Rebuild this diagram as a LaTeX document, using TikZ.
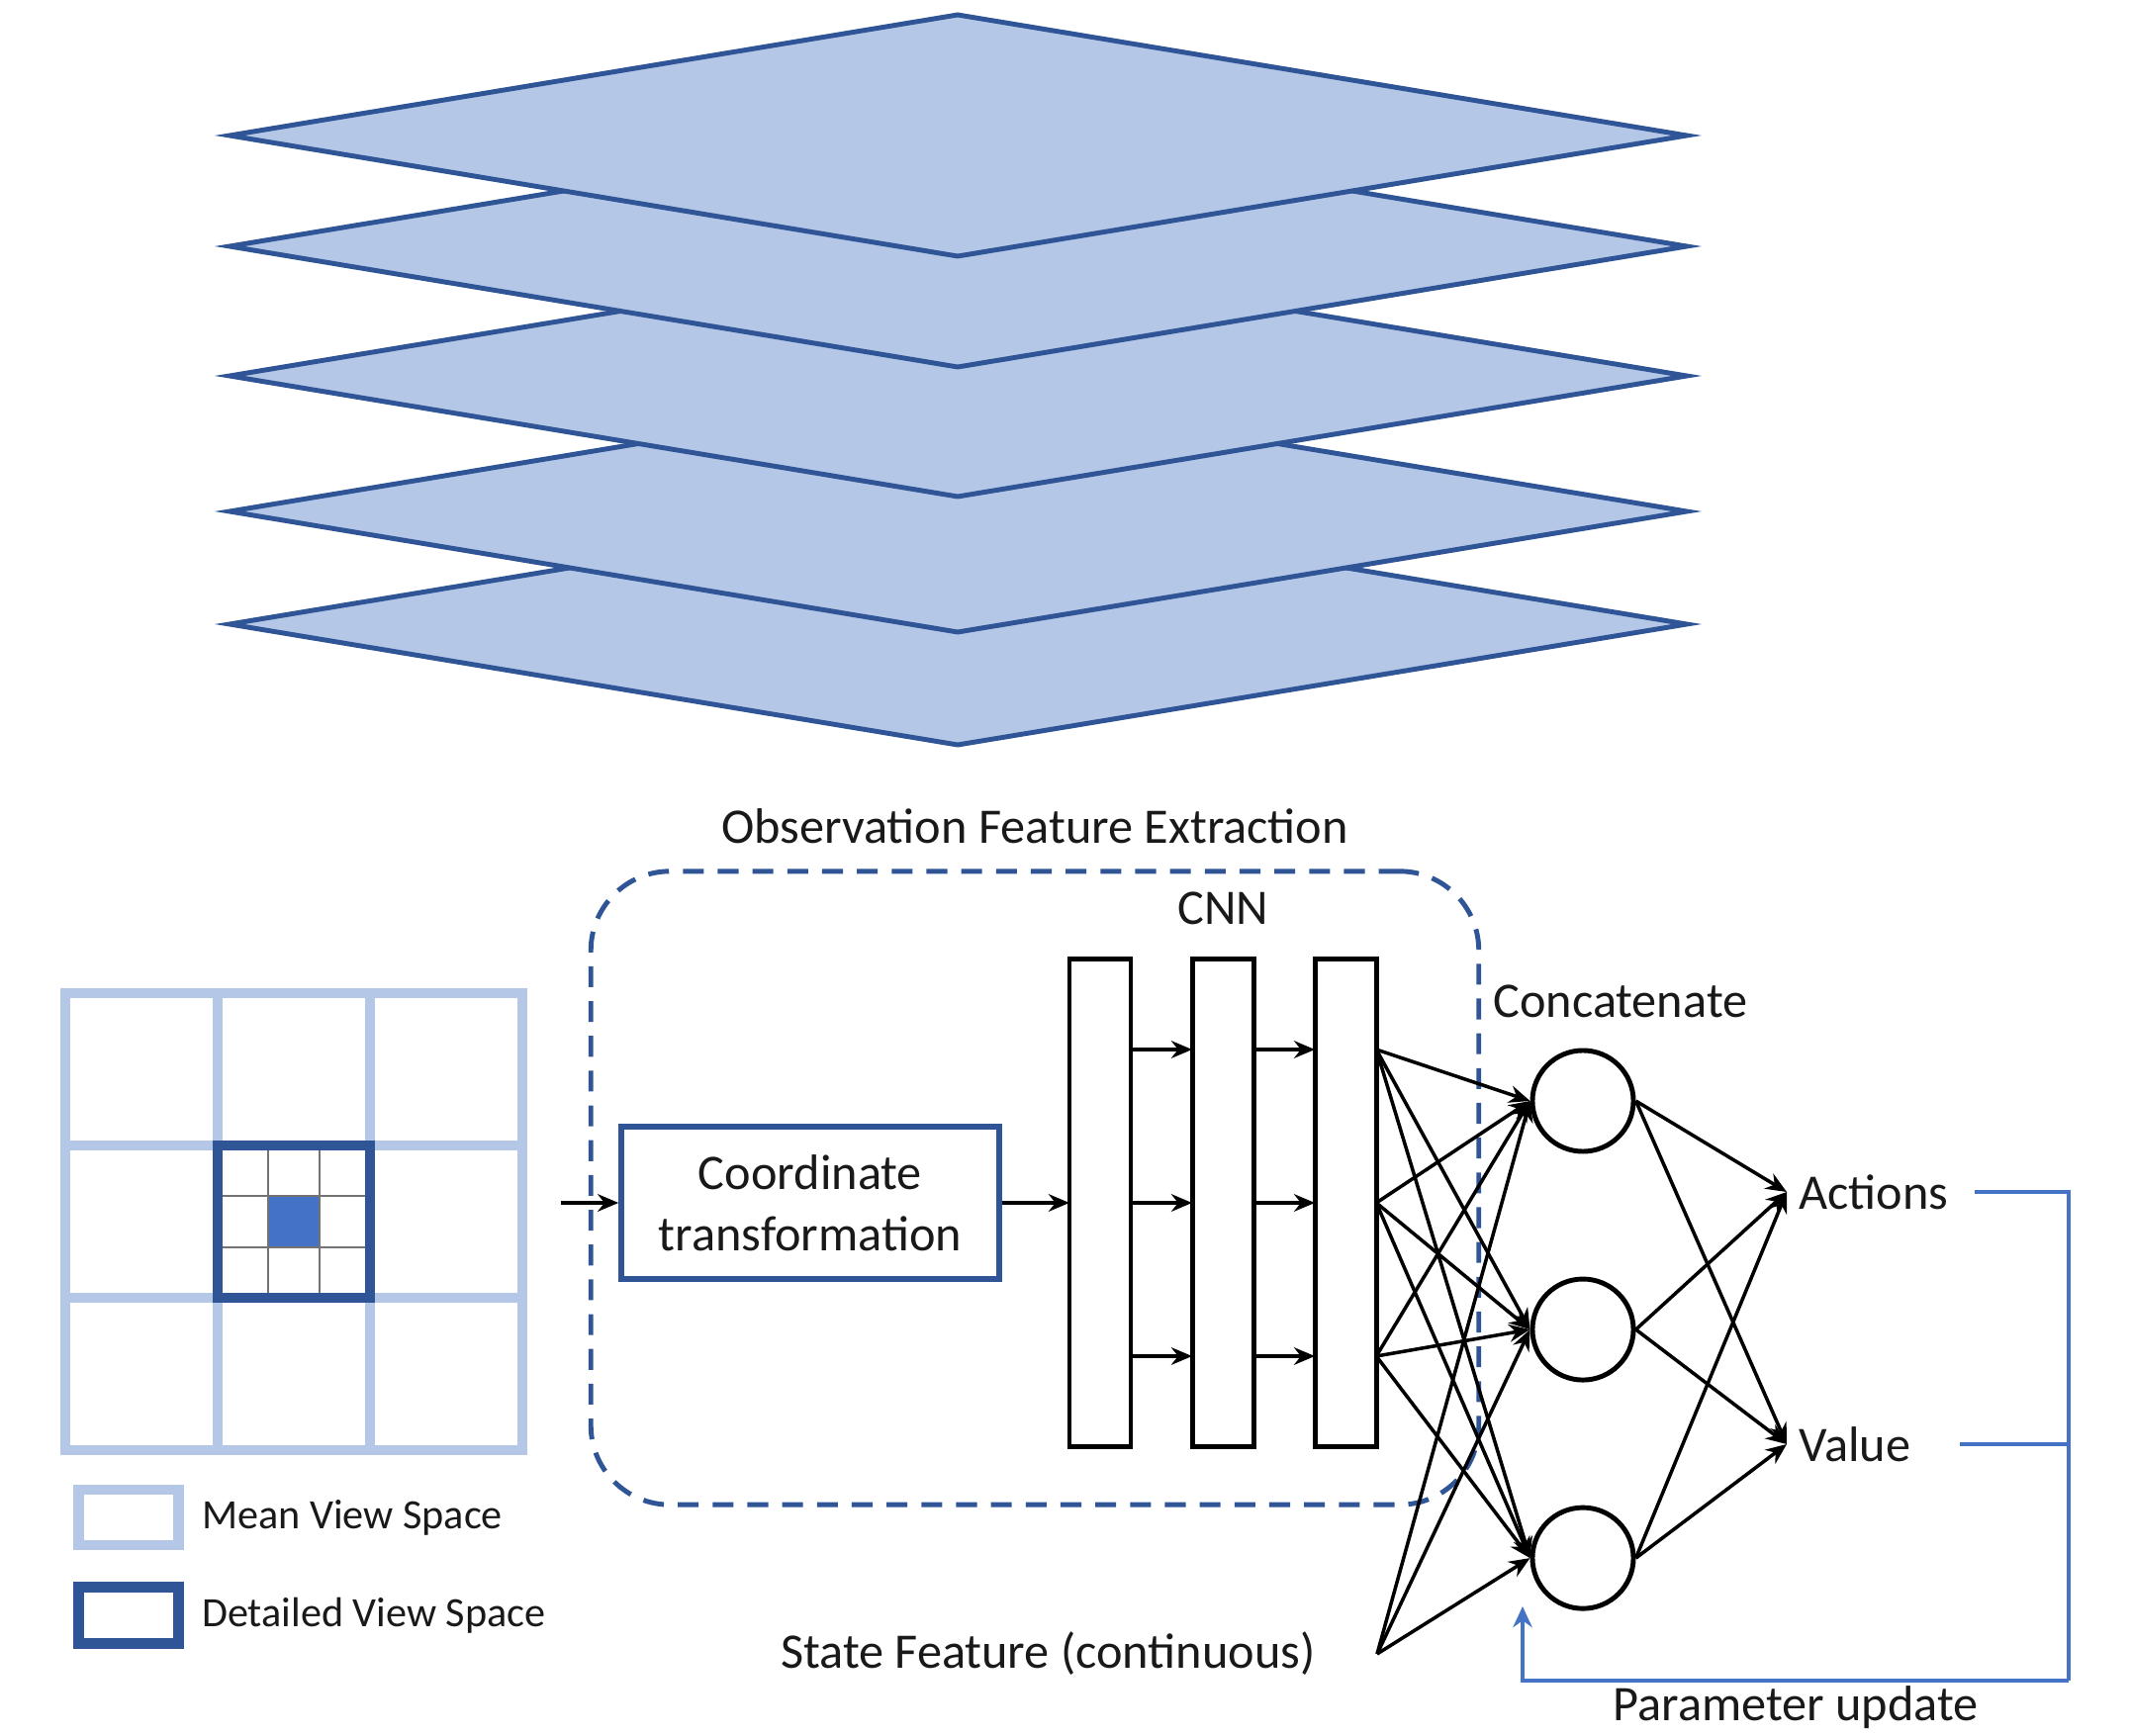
\documentclass[tikz,border=0pt]{standalone}
\usepackage{fontspec}
\setmainfont{Carlito}
\usepackage{tikz}
\usetikzlibrary{positioning,arrows.meta}
\definecolor{layerblue}{HTML}{B4C7E7}
\definecolor{darkblue}{HTML}{2F5597}
\definecolor{midblue}{HTML}{4472C4}
\tikzstyle{layer}=[fill=layerblue,draw=darkblue,line width=1.4pt]
\tikzstyle{mean}=[draw=layerblue,line width=3pt]
\tikzstyle{detail}=[draw=darkblue,line width=3pt]
\tikzstyle{lbl}=[text=black!90,font=\fontsize{14.3}{17.6}\selectfont]
\tikzstyle{small}=[text=black!90,font=\fontsize{12}{14}\selectfont]
\tikzstyle{obsframe}=[draw=darkblue,line width=1.4pt,dashed,dash pattern=on 6pt off 4pt,rounded corners=0.8cm]
\tikzstyle{transbox}=[draw=darkblue,line width=1.5pt]
\tikzstyle{cnnbox}=[draw,line width=1.4pt,minimum width=0.62cm,minimum height=4.92cm,inner sep=0pt,outer sep=0pt]
\tikzstyle{neuron}=[circle,draw,line width=1.4pt,minimum size=1.02cm,inner sep=0pt]
\tikzstyle{conn}=[-{Stealth[length=6pt,width=5pt]},line width=1pt]
\tikzstyle{feedback}=[draw=midblue,line width=1.4pt]

\begin{document}
\begin{tikzpicture}[x=0.01cm,y=-0.01cm]
  \useasboundingbox (0,0) rectangle (2154,1755);
  \foreach \m in {631,517,380,249,137}
    \filldraw[layer] (232,\m) -- (968,\m-122) -- (1705,\m) -- (968,\m+122) -- cycle;

  \foreach \k in {1,2}
    \draw[mean] (66+\k*154,1004) -- (66+\k*154,1466) (66,1004+\k*154) -- (528,1004+\k*154);
  \draw[mean] (66,1004) rectangle (528,1466);
  \fill[midblue] (271,1209) rectangle (323,1261);
  \draw[black!55,line width=0.6pt] (271,1158) -- (271,1312) (323,1158) -- (323,1312)
    (220,1209) -- (374,1209) (220,1261) -- (374,1261);
  \draw[detail] (220,1158) rectangle (374,1312);

  \node (meanbox) [mean, minimum width=1.01cm, minimum height=0.56cm] at (130,1534) {};
  \node [small, right=0.06cm of meanbox] {Mean View Space};
  \node (detailbox) [detail, minimum width=1.01cm, minimum height=0.57cm] at (130,1633) {};
  \node [small, right=0.06cm of detailbox] {Detailed View Space};

  \node (obsbox) [obsframe, minimum width=8.97cm, minimum height=6.40cm] at (1046,1201) {};
  \node (obstitle) [lbl, above=0.13cm of obsbox] {Observation Feature Extraction};

  \node (coord) [transbox, lbl, align=center, minimum width=3.82cm, minimum height=1.54cm] at (819,1216) {Coordinate\\transformation};
  \coordinate (inp) at (567,1216);
  \draw[conn] (inp) -- (coord.west);

  \node (cnn1) [cnnbox] at (1112,1216) {};
  \node (cnn2) [cnnbox, right=0.62cm of cnn1] {};
  \node (cnn3) [cnnbox, right=0.62cm of cnn2] {};
  \node (cnnlbl) [lbl, above=0.23cm of cnn2] {CNN};
  \draw[conn] (coord.east) -- (cnn1.west);
  \foreach \y in {1061,1216,1371} {
    \draw[conn] (cnn1.east |- 0,\y) -- (cnn2.west |- 0,\y);
    \draw[conn] (cnn2.east |- 0,\y) -- (cnn3.west |- 0,\y);
  }

  \node (n1) [neuron] at (1600,1113) {};
  \node (n2) [neuron, below=1.24cm of n1] {};
  \node (n3) [neuron, below=1.24cm of n2] {};
  \node (concat) [lbl, anchor=west] at (1497,1012) {Concatenate};

  \coordinate (statept) at (1392,1672);
  \node (state) [lbl, left=0.5cm of statept] {State Feature (continuous)};

  \foreach \n in {n1,n2,n3} {
    \foreach \y in {1061,1216,1371}
      \draw[conn] (cnn3.east |- 0,\y) -- (\n.west);
    \draw[conn] (statept) -- (\n.west);
  }

  \node (act) [lbl, anchor=west] at (1806,1205) {Actions};
  \node (val) [lbl, anchor=west] at (1806,1460) {Value};
  \foreach \n in {n1,n2,n3} {
    \draw[conn] (\n.east) -- (act.west);
    \draw[conn] (\n.east) -- (val.west);
  }

  \coordinate (fbc) at (2091,1699);
  \coordinate (fbend) at (1539,1624);
  \draw[feedback] ([xshift=0.14cm]act.east) -| (fbc);
  \draw[feedback] ([xshift=0.37cm]val.east) -- (val.east -| fbc);
  \draw[feedback, -{Stealth[length=6pt,width=5.5pt]}] (fbc) -| node[lbl, pos=0.25, below, inner sep=1pt] {Parameter update} (fbend);
\end{tikzpicture}
\end{document}
